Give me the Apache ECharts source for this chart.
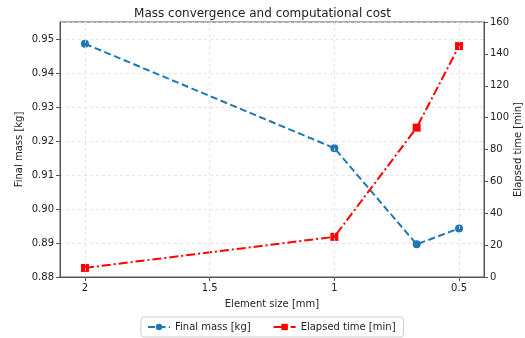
<!DOCTYPE html>
<html>
<head>
<meta charset="utf-8">
<script src="https://cdn.jsdelivr.net/npm/echarts@6/dist/echarts.min.js"></script>
<style>
  html, body { margin: 0; padding: 0; background: #fff; }
  #chart { width: 525px; height: 338px; }
</style>
</head>
<body>
<div id="chart"></div>
<script>
// Mesh element sizes [mm] and the results at each size
const elementSize = [2, 1, 0.67, 0.5];
const finalMass = [0.9486, 0.9179, 0.8896, 0.8943];
const elapsedTime = [5.7, 25.2, 93.7, 144.9];
const xTicks = [2, 1.5, 1, 0.5];

const font = 'DejaVu Sans';
const textColor = '#222';
const spine = '#555';

const chart = echarts.init(document.getElementById('chart'), null, { renderer: 'canvas' });

chart.setOption({
  animation: false,
  textStyle: { fontFamily: font, color: textColor },
  title: {
    text: 'Mass convergence and computational cost',
    left: 'center',
    top: 3,
    textStyle: { fontFamily: font, fontSize: 12, fontWeight: 'normal', color: textColor }
  },
  grid: {
    left: 60, right: 41, top: 22, bottom: 61,
    outerBoundsMode: 'none',
    containLabel: false,
    show: true, borderColor: spine, borderWidth: 1, backgroundColor: 'transparent'
  },
  legend: {
    bottom: 1,
    left: 141,
    itemWidth: 22,
    itemHeight: 8,
    itemGap: 22,
    padding: [5, 8, 5, 6],
    borderColor: '#ccc',
    borderWidth: 1,
    borderRadius: 3,
    textStyle: { fontFamily: font, fontSize: 10, color: textColor },
    data: ['Final mass [kg]', 'Elapsed time [min]']
  },
  xAxis: {
    type: 'value',
    inverse: true,
    min: 0.4,
    max: 2.1,
    name: 'Element size [mm]',
    nameLocation: 'middle',
    nameGap: 22,
    nameMoveOverlap: false,
    nameTextStyle: { fontFamily: font, fontSize: 10, color: textColor },
    axisLine: { show: true, lineStyle: { color: spine } },
    axisTick: { show: true, inside: false, length: 4, customValues: xTicks, lineStyle: { color: spine } },
    axisLabel: { customValues: xTicks, fontFamily: font, fontSize: 10, color: textColor, margin: 6,
      formatter: v => String(v) },
    splitLine: { show: false }
  },
  yAxis: [
    {
      type: 'value',
      min: 0.88,
      max: 0.955,
      interval: 0.01,
      name: 'Final mass [kg]',
      nameLocation: 'middle',
      nameGap: 36,
      nameMoveOverlap: false,
      nameTextStyle: { fontFamily: font, fontSize: 10, color: textColor },
      axisLine: { show: true, lineStyle: { color: spine } },
      axisTick: { show: true, inside: false, length: 4, lineStyle: { color: spine } },
      axisLabel: { fontFamily: font, fontSize: 10, color: textColor, margin: 6, showMaxLabel: false,
        formatter: v => v.toFixed(2) },
      splitLine: { show: true, lineStyle: { color: '#ddd', type: [3, 3], width: 0.8 } }
    },
    {
      type: 'value',
      min: 0,
      max: 160,
      interval: 20,
      position: 'right',
      name: 'Elapsed time [min]',
      nameLocation: 'middle',
      nameGap: 29,
      nameRotate: 90,
      nameMoveOverlap: false,
      nameTextStyle: { fontFamily: font, fontSize: 10, color: textColor },
      axisLine: { show: true, lineStyle: { color: spine } },
      axisTick: { show: true, inside: false, length: 4, lineStyle: { color: spine } },
      axisLabel: { fontFamily: font, fontSize: 10, color: textColor, margin: 6 },
      splitLine: { show: false }
    }
  ],
  series: [
    {
      name: 'Final mass [kg]',
      type: 'line',
      yAxisIndex: 0,
      data: elementSize.map((x, i) => [x, finalMass[i]]),
      symbol: 'circle',
      symbolSize: 8,
      color: '#1f77b4',
      lineStyle: { color: '#1f77b4', width: 2, type: [7, 3.5] },
      itemStyle: { color: '#1f77b4' },
      z: 3,
      markLine: {
        silent: true,
        symbol: 'none',
        label: { show: false },
        lineStyle: { color: '#ddd', type: [3, 3], width: 0.8 },
        emphasis: { disabled: true },
        data: xTicks.map(v => ({ xAxis: v }))
      }
    },
    {
      name: 'Elapsed time [min]',
      type: 'line',
      yAxisIndex: 1,
      data: elementSize.map((x, i) => [x, elapsedTime[i]]),
      symbol: 'rect',
      symbolSize: 8,
      color: '#ff0000',
      lineStyle: { color: '#ff0000', width: 2, type: [9, 3, 2, 3] },
      itemStyle: { color: '#ff0000' },
      z: 4
    }
  ]
});
</script>
</body>
</html>
